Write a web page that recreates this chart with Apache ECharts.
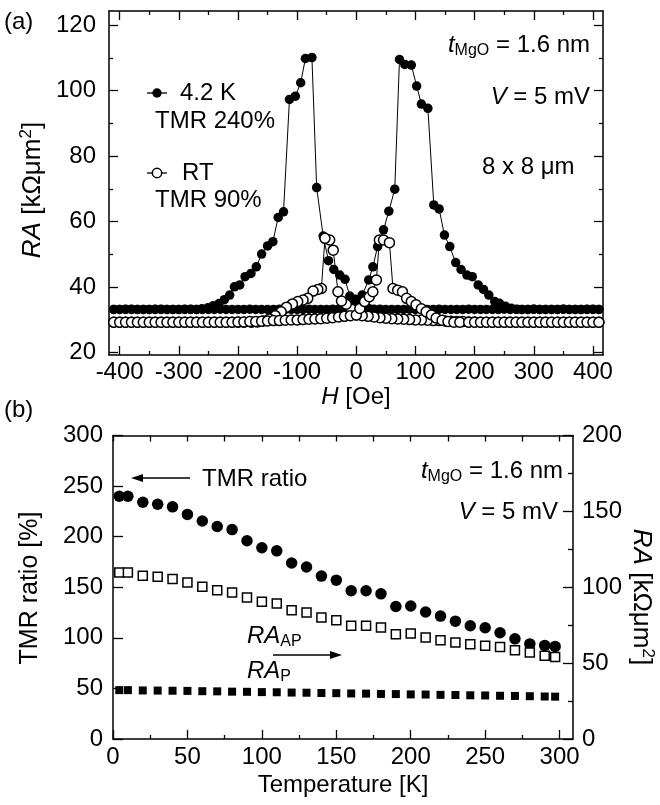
<!DOCTYPE html>
<html>
<head>
<meta charset="utf-8">
<script src="https://cdn.jsdelivr.net/npm/echarts@6.0.0/dist/echarts.min.js"></script>
<style>
html, body { margin: 0; padding: 0; background: #fff; }
#main { width: 660px; height: 805px; }
</style>
</head>
<body>
<div id="main"></div>
<script>
// ---- data: panel (a), RA vs H loops ----
var ra42KDown = [
  [410,33.2],[400,33.2],[390,33.3],[380,33.2],[370,33.2],[360,33.2],[350,33.3],[340,33.2],[330,33.2],[320,33.2],
  [310,33.2],[300,33.3],[290,33.2],[280,33.2],[270,33.2],[260,33.2],[250,33.3],[240,33.2],[230,33.2],[220,33.2],
  [210,33.2],[200,33.2],[190,33.3],[180,33.2],[170,33.2],[160,33.2],[150,33.2],[140,33.3],[130,33.2],[120,33.2],
  [110,33.2],[100,33.2],[90,33.3],[80,33.2],[70,33.2],[60,33.2],[50,33.2],[40,33.3],[30,33.3],[21,33.5],
  [12,34.4],[5,35.6],[-1,36.3],[-11,37.3],[-19,42.4],[-28,43.7],[-38,45.4],[-47,48.1],[-56,55.6],[-67,70.4],
  [-75,110.1],[-86,109.8],[-94,102.4],[-103,98.3],[-113,97.3],[-123,63.0],[-132,61.3],[-141,53.9],[-150,52.6],[-160,50.1],
  [-169,46.2],[-178,44.2],[-188,43.2],[-197,40.7],[-206,40.1],[-214,37.6],[-223,36.2],[-232,35.0],[-242,34.3],[-251,33.7],
  [-261,33.4],[-270,33.2],[-280,33.2],[-290,33.3],[-300,33.2],[-310,33.2],[-320,33.2],[-330,33.2],[-340,33.3],[-350,33.2],
  [-360,33.2],[-370,33.2],[-380,33.2],[-390,33.3],[-400,33.2],[-410,33.2]
];
var ra42KUp = [
  [-410,33.2],[-400,33.2],[-390,33.2],[-380,33.3],[-370,33.2],[-360,33.2],[-350,33.2],[-340,33.2],[-330,33.3],[-320,33.2],
  [-310,33.2],[-300,33.2],[-290,33.2],[-280,33.3],[-270,33.2],[-260,33.2],[-250,33.2],[-240,33.2],[-230,33.3],[-220,33.2],
  [-210,33.2],[-200,33.2],[-190,33.2],[-180,33.3],[-170,33.2],[-160,33.2],[-150,33.2],[-140,33.2],[-130,33.3],[-120,33.2],
  [-110,33.2],[-100,33.2],[-90,33.2],[-80,33.3],[-70,33.2],[-60,33.2],[-50,33.2],[-40,33.3],[-30,33.3],[-20,33.4],
  [-10,34.4],[0,36.0],[10,37.6],[21,42.2],[28,46.2],[36,52.4],[46,57.5],[55,63.2],[65,69.9],[73,109.5],
  [82,108.0],[93,107.8],[102,101.4],[110,95.9],[121,94.6],[131,65.1],[140,63.9],[149,55.9],[158,52.4],[168,47.5],
  [177,45.4],[187,43.7],[196,43.2],[206,40.7],[215,39.3],[224,37.6],[234,35.6],[242,35.1],[252,34.2],[262,33.6],
  [272,33.3],[280,33.2],[290,33.2],[300,33.3],[310,33.2],[320,33.2],[330,33.2],[340,33.2],[350,33.3],[360,33.2],
  [370,33.2],[380,33.2],[390,33.2],[400,33.3],[410,33.2]
];
var raRTDown = [
  [410,29.3],[400,29.3],[390,29.3],[380,29.3],[370,29.3],[360,29.3],[350,29.3],[340,29.3],[330,29.3],[320,29.3],
  [310,29.3],[300,29.3],[290,29.3],[280,29.3],[270,29.3],[260,29.3],[250,29.3],[240,29.3],[230,29.3],[220,29.3],
  [210,29.3],[200,29.4],[190,29.4],[180,29.5],[170,29.5],[160,29.6],[150,29.7],[140,29.8],[130,29.8],[120,29.9],
  [110,30.0],[100,30.0],[90,30.1],[80,30.2],[70,30.3],[60,30.4],[50,30.5],[40,30.7],[30,30.9],[20,31.1],
  [10,31.3],[0,31.5],[-8,33.3],[-17,34.8],[-25,35.8],[-31,38.6],[-39,51.3],[-45,54.4],[-53,54.9],[-59,39.6],
  [-65,39.3],[-73,38.8],[-82,36.6],[-90,36.1],[-99,35.6],[-108,34.9],[-118,33.9],[-127,32.5],[-137,31.3],[-147,30.3],
  [-157,29.7],[-167,29.4],[-177,29.3],[-190,29.3],[-200,29.3],[-210,29.3],[-220,29.3],[-230,29.3],[-240,29.3],[-250,29.3],
  [-260,29.3],[-270,29.3],[-280,29.3],[-290,29.3],[-300,29.3],[-310,29.3],[-320,29.3],[-330,29.3],[-340,29.3],[-350,29.3],
  [-360,29.3],[-370,29.3],[-380,29.3],[-390,29.3],[-400,29.3],[-410,29.3]
];
var raRTUp = [
  [-410,29.3],[-400,29.3],[-390,29.3],[-380,29.3],[-370,29.3],[-360,29.3],[-350,29.3],[-340,29.3],[-330,29.3],[-320,29.3],
  [-310,29.3],[-300,29.3],[-290,29.3],[-280,29.3],[-270,29.3],[-260,29.3],[-250,29.3],[-240,29.3],[-230,29.3],[-220,29.3],
  [-210,29.3],[-200,29.4],[-190,29.4],[-180,29.5],[-170,29.5],[-160,29.6],[-150,29.7],[-140,29.8],[-130,29.8],[-120,29.9],
  [-110,30.0],[-100,30.0],[-90,30.1],[-80,30.2],[-70,30.3],[-60,30.4],[-50,30.5],[-40,30.7],[-30,30.9],[-20,31.1],
  [-10,31.3],[0,31.5],[6,33.5],[14,35.6],[22,37.1],[28,38.6],[34,42.2],[39,54.4],[46,54.4],[56,53.6],
  [62,39.6],[70,39.1],[78,38.6],[85,36.6],[93,35.6],[101,34.6],[110,33.4],[118,32.5],[127,31.5],[135,30.6],
  [145,29.9],[155,29.5],[165,29.3],[175,29.3],[190,29.3],[200,29.3],[210,29.3],[220,29.3],[230,29.3],[240,29.3],
  [250,29.3],[260,29.3],[270,29.3],[280,29.3],[290,29.3],[300,29.3],[310,29.3],[320,29.3],[330,29.3],[340,29.3],
  [350,29.3],[360,29.3],[370,29.3],[380,29.3],[390,29.3],[400,29.3],[410,29.3]
];

// ---- data: panel (b), vs temperature ----
var temps    = [4.2, 10, 20, 30, 40, 50, 60, 70, 80, 90, 100, 110, 120, 130, 140, 150,
                160, 170, 180, 190, 200, 210, 220, 230, 240, 250, 260, 270, 280, 290, 297];
var tmrRatio = [240, 240, 234, 232, 229.5, 222, 215.5, 210, 207, 196, 189, 186, 174, 170, 161, 157,
                146.5, 146.5, 143.5, 131, 131.5, 125.5, 121.5, 116.5, 112, 110, 105, 99, 94, 92.5, 91.5];
var raAP     = [109.8, 109.8, 107.6, 106.9, 105.4, 103.2, 100.3, 98.1, 96.6, 93.3, 90.4, 89.3, 84.9, 83.4, 80.1, 78.3,
                74.6, 74.6, 73.5, 69.1, 69.5, 66.9, 65.1, 63.6, 62.5, 61.4, 60.7, 58.5, 57.0, 54.8, 54.1];
var raP      = [32.2, 32.2, 32.0, 31.9, 31.8, 31.7, 31.5, 31.4, 31.2, 31.1, 30.9, 30.8, 30.6, 30.5, 30.3, 30.2,
                30.0, 29.9, 29.7, 29.6, 29.4, 29.3, 29.1, 29.0, 28.8, 28.7, 28.5, 28.4, 28.2, 28.0, 27.9];

// ---- tick values ----
var fieldTicks = [-400, -300, -200, -100, 0, 100, 200, 300, 400];
var fieldMinor = [-350, -250, -150, -50, 50, 150, 250, 350];
var raTicksA   = [20, 40, 60, 80, 100, 120];
var raMinorA   = [30, 50, 70, 90, 110];
var tempTicks  = [0, 50, 100, 150, 200, 250, 300];
var tempMinor  = [25, 75, 125, 175, 225, 275];
var tmrTicks   = [0, 50, 100, 150, 200, 250, 300];
var raTicksB   = [0, 50, 100, 150, 200];
var raMinorB   = [25, 75, 125, 175];

var FONT = "'Liberation Sans', Arial, sans-serif";

function pair(xs, ys) {
  return xs.map(function (x, i) { return [x, ys[i]]; });
}

function tickAxis(o) {
  return {
    type: 'value',
    gridIndex: o.grid,
    position: o.position,
    min: o.min,
    max: o.max,
    axisLine: { show: !!o.line, onZero: false, lineStyle: { color: '#000', width: 1.5 } },
    axisTick: {
      show: true, inside: true, length: o.len,
      customValues: o.ticks,
      lineStyle: { color: '#000', width: 1.3 }
    },
    axisLabel: {
      show: !!o.labels,
      customValues: o.labels || [],
      color: '#000',
      fontSize: 24,
      fontFamily: FONT,
      margin: o.margin || 8
    },
    splitLine: { show: false }
  };
}

function txt(x, y, text, align, rich, extra) {
  var el = {
    type: 'text', x: x, y: y,
    style: {
      text: text, fill: '#000', fontSize: 24, fontFamily: FONT,
      align: align || 'left', verticalAlign: 'middle',
      rich: rich || {}
    }
  };
  if (extra) { for (var k in extra) el[k] = extra[k]; }
  return el;
}

var richTM = {
  it: { fontStyle: 'italic', fontSize: 24, fontFamily: FONT, fill: '#000', lineHeight: 28 },
  sub: { fontSize: 16, fontFamily: FONT, fill: '#000', lineHeight: 13, verticalAlign: 'bottom' },
  n: { fontSize: 24, fontFamily: FONT, fill: '#000', lineHeight: 28 }
};
// bigger style for the rotated RA titles
var richRA = {
  it: { fontStyle: 'italic', fontSize: 26, fontFamily: FONT, fill: '#000', lineHeight: 30 },
  sup: { fontSize: 17, fontFamily: FONT, fill: '#000', lineHeight: 14, verticalAlign: 'top' },
  n: { fontSize: 26, fontFamily: FONT, fill: '#000', lineHeight: 30 }
};
var raTitle = '{it|RA}{n| [kΩμm}{sup|2}{n|]}';

var chart = echarts.init(document.getElementById('main'), null, { renderer: 'canvas' });

var option = {
  animation: false,
  backgroundColor: '#fff',
  grid: [
    { left: 109, top: 11, width: 494, height: 344 },
    { left: 113, top: 435.5, width: 460, height: 303.5 }
  ],
  xAxis: [
    tickAxis({ grid: 0, position: 'bottom', min: -418, max: 417, len: 9, ticks: fieldTicks, labels: fieldTicks, line: true, margin: 5 }),
    tickAxis({ grid: 0, position: 'bottom', min: -418, max: 417, len: 4, ticks: fieldMinor }),
    tickAxis({ grid: 0, position: 'top', min: -418, max: 417, len: 9, ticks: fieldTicks, line: true }),
    tickAxis({ grid: 0, position: 'top', min: -418, max: 417, len: 4, ticks: fieldMinor }),
    tickAxis({ grid: 1, position: 'bottom', min: 0, max: 309, len: 9, ticks: tempTicks, labels: tempTicks, line: true, margin: 6 }),
    tickAxis({ grid: 1, position: 'bottom', min: 0, max: 309, len: 4, ticks: tempMinor }),
    tickAxis({ grid: 1, position: 'top', min: 0, max: 309, len: 6, ticks: tempTicks.concat(tempMinor), line: true })
  ],
  yAxis: [
    tickAxis({ grid: 0, position: 'left', min: 19.3, max: 124.3, len: 9, ticks: raTicksA, labels: raTicksA, line: true, margin: 13 }),
    tickAxis({ grid: 0, position: 'left', min: 19.3, max: 124.3, len: 4, ticks: raMinorA }),
    tickAxis({ grid: 0, position: 'right', min: 19.3, max: 124.3, len: 9, ticks: raTicksA, line: true }),
    tickAxis({ grid: 0, position: 'right', min: 19.3, max: 124.3, len: 4, ticks: raMinorA }),
    tickAxis({ grid: 1, position: 'left', min: 0, max: 300, len: 10, ticks: tmrTicks, labels: tmrTicks, line: true, margin: 10 }),
    tickAxis({ grid: 1, position: 'right', min: 0, max: 200, len: 10, ticks: raTicksB, labels: raTicksB, line: true, margin: 9 }),
    tickAxis({ grid: 1, position: 'right', min: 0, max: 200, len: 5, ticks: raMinorB })
  ],
  series: [
    {
      name: '4.2 K down', type: 'line', xAxisIndex: 0, yAxisIndex: 0,
      data: ra42KDown, symbol: 'circle', symbolSize: 9.5, showAllSymbol: true,
      itemStyle: { color: '#000' }, lineStyle: { color: '#000', width: 1 }
    },
    {
      name: '4.2 K up', type: 'line', xAxisIndex: 0, yAxisIndex: 0,
      data: ra42KUp, symbol: 'circle', symbolSize: 9.5, showAllSymbol: true,
      itemStyle: { color: '#000' }, lineStyle: { color: '#000', width: 1 }
    },
    {
      name: 'RT down', type: 'line', xAxisIndex: 0, yAxisIndex: 0,
      data: raRTDown, symbol: 'circle', symbolSize: 10, showAllSymbol: true,
      itemStyle: { color: '#fff', borderColor: '#000', borderWidth: 1.5 },
      lineStyle: { color: '#000', width: 1 }
    },
    {
      name: 'RT up', type: 'line', xAxisIndex: 0, yAxisIndex: 0,
      data: raRTUp, symbol: 'circle', symbolSize: 10, showAllSymbol: true,
      itemStyle: { color: '#fff', borderColor: '#000', borderWidth: 1.5 },
      lineStyle: { color: '#000', width: 1 }
    },
    {
      name: 'TMR ratio', type: 'scatter', xAxisIndex: 4, yAxisIndex: 4,
      data: pair(temps, tmrRatio), symbol: 'circle', symbolSize: 11.5,
      itemStyle: { color: '#000', opacity: 1 }
    },
    {
      name: 'RA_AP', type: 'scatter', xAxisIndex: 4, yAxisIndex: 5,
      data: pair(temps, raAP), symbol: 'rect', symbolSize: 9,
      itemStyle: { color: '#fff', borderColor: '#000', borderWidth: 1.5, opacity: 1 }
    },
    {
      name: 'RA_P', type: 'scatter', xAxisIndex: 4, yAxisIndex: 5,
      data: pair(temps, raP), symbol: 'rect', symbolSize: 8,
      itemStyle: { color: '#000', opacity: 1 }
    }
  ],
  graphic: [
    // panel labels
    txt(4, 22, '(a)'),
    txt(4, 410, '(b)'),
    // axis titles
    txt(356, 397, '{it|H}{n| [Oe]}', 'center', richTM),
    txt(33, 190, raTitle, 'center', richRA, { rotation: Math.PI / 2 }),
    txt(30, 588, 'TMR ratio [%]', 'center', null, { rotation: Math.PI / 2, style: {
      text: 'TMR ratio [%]', fill: '#000', fontSize: 25, fontFamily: FONT, align: 'center', verticalAlign: 'middle' } }),
    txt(641, 597, raTitle, 'center', richRA, { rotation: -Math.PI / 2 }),
    txt(343, 785, 'Temperature [K]', 'center'),
    // panel (a) notes
    txt(590, 45, '{it|t}{sub|MgO}{n| = 1.6 nm}', 'right', richTM),
    txt(590, 97, '{it|V}{n| = 5 mV}', 'right', richTM),
    txt(482, 167, '8 x 8 μm'),
    { type: 'line', shape: { x1: 147, y1: 93, x2: 167, y2: 93 }, style: { stroke: '#000', lineWidth: 1.3 } },
    { type: 'circle', shape: { cx: 157, cy: 93, r: 4.7 }, style: { fill: '#000' } },
    txt(180, 93, '4.2 K'),
    txt(155, 121, 'TMR 240%'),
    { type: 'line', shape: { x1: 147, y1: 173, x2: 167, y2: 173 }, style: { stroke: '#000', lineWidth: 1.3 } },
    { type: 'circle', shape: { cx: 157, cy: 173, r: 4.7 }, style: { fill: '#fff', stroke: '#000', lineWidth: 1.5 } },
    txt(182, 173, 'RT'),
    txt(155, 200, 'TMR 90%'),
    // panel (b) notes
    { type: 'line', shape: { x1: 140, y1: 478, x2: 190, y2: 478 }, style: { stroke: '#000', lineWidth: 1.5 } },
    { type: 'polygon', shape: { points: [[131, 478], [143, 474], [143, 482]] }, style: { fill: '#000' } },
    txt(202, 479, 'TMR ratio'),
    txt(247, 636, '{it|RA}{sub|AP}', 'left', richTM),
    { type: 'line', shape: { x1: 273, y1: 655, x2: 333, y2: 655 }, style: { stroke: '#000', lineWidth: 1.5 } },
    { type: 'polygon', shape: { points: [[342, 655], [330, 651], [330, 659]] }, style: { fill: '#000' } },
    txt(247, 671, '{it|RA}{sub|P}', 'left', richTM),
    txt(563, 471, '{it|t}{sub|MgO}{n| = 1.6 nm}', 'right', richTM),
    txt(558, 512, '{it|V}{n| = 5 mV}', 'right', richTM)
  ]
};

chart.setOption(option);
</script>
</body>
</html>
